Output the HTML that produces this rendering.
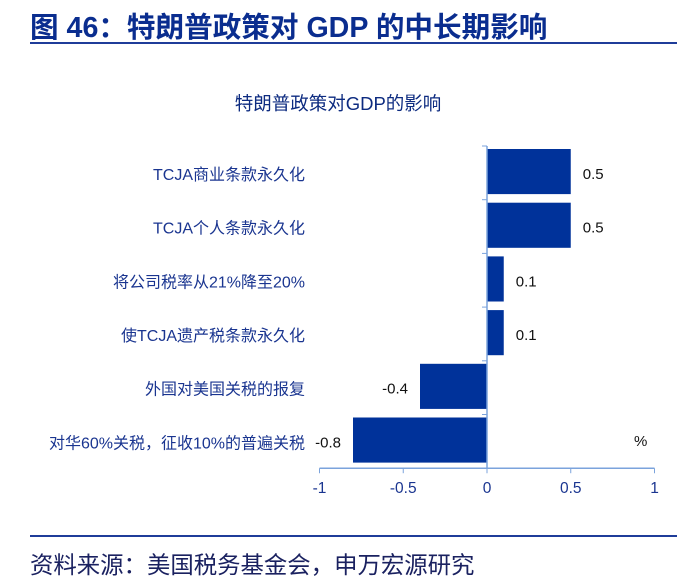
<!DOCTYPE html>
<html><head><meta charset="utf-8"><style>
body{margin:0;width:700px;height:587px;background:#fff;overflow:hidden;position:relative;font-family:"Liberation Sans","Noto Sans CJK SC",sans-serif}
.t{position:absolute;left:30px;top:5px;font-size:28.6px;font-weight:bold;color:#0a2d8f;white-space:nowrap}
.l1{position:absolute;left:30px;top:42px;width:647px;height:2px;background:#1f3c99}
.l2{position:absolute;left:30px;top:535px;width:647px;height:2px;background:#1f3c99}
.src{position:absolute;left:30px;top:546px;font-size:23.4px;color:#1a2160;white-space:nowrap}
</style></head><body>
<div class="t">图 46：特朗普政策对 GDP 的中长期影响</div>
<div class="l1"></div>
<svg id="c" width="700" height="587" style="position:absolute;left:0;top:0"></svg>
<div class="l2"></div>
<div class="src">资料来源：美国税务基金会，申万宏源研究</div>
<script>
const categories=["TCJA商业条款永久化","TCJA个人条款永久化","将公司税率从21%降至20%","使TCJA遗产税条款永久化","外国对美国关税的报复","对华60%关税，征收10%的普遍关税"];
const values=[0.5,0.5,0.1,0.1,-0.4,-0.8];
const ticks=[-1,-0.5,0,0.5,1];
const tickLabels=["-1","-0.5","0","0.5","1"];
const svg=document.getElementById('c');const NS="http://www.w3.org/2000/svg";
const x=v=>487+(v)*167.5;
const top0=146,bandH=53.7;
const y=i=>top0+i*bandH;
function mk(t,a){const e=document.createElementNS(NS,t);for(const k in a)e.setAttribute(k,a[k]);svg.appendChild(e);return e;}
let e=mk('text',{x:338,y:110,'text-anchor':'middle','font-size':18.5,fill:'#0d2b80','font-family':'"Liberation Sans","Noto Sans CJK SC",sans-serif'});e.textContent="特朗普政策对GDP的影响";


values.forEach((v,i)=>{
 const r=mk('rect',{x:Math.min(x(0),x(v)),y:y(i)+3,width:Math.abs(x(v)-x(0)),height:bandH*0.84,fill:'#00329a'});
 
 
 const lx=v>=0?x(v)+12:x(v)-12;
 const t=mk('text',{x:lx,y:y(i)+bandH/2+6,'text-anchor':v>=0?'start':'end','font-size':15,fill:'#111','font-family':'"Liberation Sans",sans-serif'});t.textContent=v;
 
 
 const c=mk('text',{x:305,y:y(i)+bandH/2+7,'text-anchor':'end','font-size':16,fill:'#1a3590','font-family':'"Liberation Sans","Noto Sans CJK SC",sans-serif'});c.textContent=categories[i];
 
 
});
const yb=top0+bandH*6;
mk('line',{x1:x(0),x2:x(0),y1:top0,y2:yb,stroke:'#7ba3dc','stroke-width':1.5});
for(let i=0;i<=6;i++)mk('line',{x1:x(0)-5,x2:x(0),y1:y(i),y2:y(i),stroke:'#7ba3dc','stroke-width':1});
mk('line',{x1:x(-1),x2:x(1),y1:yb,y2:yb,stroke:'#7ba3dc','stroke-width':1.5});
ticks.forEach((t,i)=>{mk('line',{x1:x(t),x2:x(t),y1:yb,y2:yb+5,stroke:'#7ba3dc','stroke-width':1});
 const l=mk('text',{x:x(t),y:yb+25,'text-anchor':'middle','font-size':15.5,fill:'#1a3590','font-family':'"Liberation Sans",sans-serif'});l.textContent=tickLabels[i];
 
 });
e=mk('text',{x:634,y:446,'font-size':15,fill:'#111','font-family':'"Liberation Sans",sans-serif'});e.textContent="%";


</script>
</body></html>
